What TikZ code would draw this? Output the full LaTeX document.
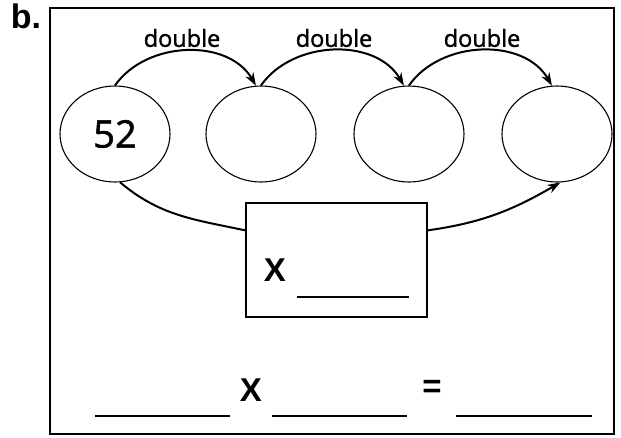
\documentclass[tikz,border=0pt]{standalone}
\usepackage{fontspec}
\setmainfont{Open Sans}
\newfontfamily\wordfont[FakeBold=1.4]{Open Sans}
\newfontfamily\boldsans{Liberation Sans}
\usetikzlibrary{shapes.geometric,arrows.meta}

\tikzset{
  bubble/.style={ellipse, draw, line width=1.1pt, minimum width=110pt, minimum height=96pt, inner sep=0pt},
  jump/.style={line width=2pt, -{Stealth[length=13pt,width=9pt]}},
  word/.style={inner sep=0pt, font=\wordfont\fontsize{23.5}{23.5}\selectfont},
  sign/.style={inner sep=0pt, font=\boldsans\bfseries\fontsize{33}{33}\selectfont},
  blank/.style={line width=1.5pt}
}

\begin{document}
\begin{tikzpicture}[x=1pt,y=1pt]
	\useasboundingbox (0,0) rectangle (621,-437);
	\node[sign, font=\boldsans\bfseries\fontsize{34}{34}\selectfont] (lbl) at (26,-16) {b.};
	\draw[line width=2.4pt] (50,-8) rectangle (614,-434);
			\foreach \n/\x in {1/115,2/261,3/409,4/557}
				\node[bubble] (c\n) at (\x,-134) {};
	\node[inner sep=0pt, font=\wordfont\fontsize{38}{38}\selectfont] (start) at (c1) {52};
			\foreach \a/\b/\x in {1/2/182,2/3/334,3/4/482}{
				\draw[jump] (c\a.north) to[out=55,in=120] (c\b.96);
				\node[word] (d\a) at (\x,-38) {double};
			}
	\node[draw, line width=1.4pt, minimum width=181pt, minimum height=114pt] (mult) at (336.5,-260) {};
	\node[sign] (times) at (275,-270) {X};
	\draw[blank] (297,-297) -- (409,-297);
	\draw[line width=2pt] (c1.-84) to[out=-40,in=168] (mult.162);
	\draw[jump] (mult.18) to[out=8,in=-150] (c4.-86);
	% bottom line
	\draw[blank] (95,-416) -- (230,-416);
	\node[sign] (times2) at (251,-390) {X};
	\draw[blank] (272,-416) -- (407,-416);
	\node[sign] (eq) at (432,-389) {=};
	\draw[blank] (456,-416) -- (592,-416);
\end{tikzpicture}
\end{document}
